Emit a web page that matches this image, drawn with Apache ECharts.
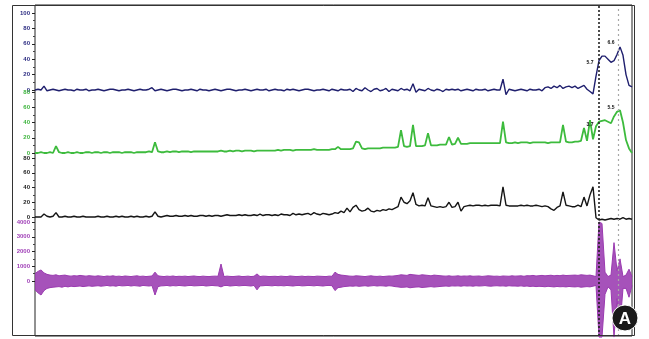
<!DOCTYPE html>
<html>
<head>
<meta charset="utf-8">
<script src="https://cdn.jsdelivr.net/npm/echarts@6/dist/echarts.min.js"></script>
<style>
  html, body { margin: 0; padding: 0; background: #fff; }
  #chart { width: 649px; height: 339px; }
</style>
</head>
<body>
<div id="chart"></div>
<script>
// one sample every ~3px across the trace window
const SAMPLE_COUNT = 200;
const samples = Array.from({ length: SAMPLE_COUNT }, (_, i) => i);

// tick labels per channel
const navyTicks = [0, 20, 40, 60, 80, 100];
const greenTicks = [0, 20, 40, 60, 80];
const blackTicks = [0, 20, 40, 60, 80];
const purpleTicks = [0, 1000, 2000, 3000, 4000];

// channel 1 (navy)
const navy = [
  0, 1, 0, 5, -1, 0, 1, 0, -1, 0, 1, 0, 0, -1, 1, 0, 0, 1, -1, 0,
  0, 1, 0, -1, 0, 1, 1, 0, -1, 0, 0, 1, 0, -1, 0, 1, 0, 0, 1, 3,
  -1, 0, 1, 0, -1, 0, 1, 1, 0, -1, 0, 0, 1, 0, -1, 1, 0, 0, -1, 0,
  1, 0, -1, 0, 1, 1, 0, -1, 0, 0, 1, 0, -1, 0, 1, 0, 0, 1, -1, 0,
  1, 0, 0, -1, 1, 0, 1, 0, -1, 0, 1, 1, 0, -1, 0, 0, 1, 0, -1, 1,
  0, -1, 1, 0, 0, 1, -2, 2, 0, -1, 3, 0, -2, 1, 2, -1, 0, 2, -2, 1,
  0, -1, 2, 0, 1, -1, 8, -3, 1, 0, -1, 2, 0, -1, 1, 0, -2, 1, 0, 1,
  0, 1, -1, 0, 1, 0, -1, 1, 0, 0, 1, -1, 0, 1, 0, 0, 14, -6, 1, 0,
  -1, 0, 1, 0, -1, 1, 0, 0, 1, -1, 3, 4, 2, 5, 3, 6, 2, 4, 5, 3,
  5, 2, 4, 6, 1, -2, -5, 18, 38, 44, 44, 40, 36, 38, 46, 56, 45, 20, 6, 4
];

// channel 2 (green)
const green = [
  0, 0, 1, 0, 0, 1, 0, 9, 1, 0, 0, 1, 0, 0, 1, 0, 0, 1, 1, 0,
  1, 1, 0, 1, 1, 0, 1, 1, 1, 0, 1, 1, 1, 0, 1, 1, 1, 1, 2, 1,
  14, 2, 1, 1, 2, 1, 2, 2, 1, 2, 2, 2, 1, 2, 2, 2, 2, 2, 2, 2,
  2, 2, 3, 2, 2, 3, 2, 3, 3, 2, 3, 3, 3, 2, 3, 3, 3, 3, 3, 3,
  3, 4, 3, 4, 4, 4, 3, 4, 4, 4, 4, 4, 4, 5, 4, 4, 4, 4, 4, 5,
  5, 8, 5, 5, 5, 5, 6, 15, 14, 6, 5, 6, 6, 6, 6, 6, 7, 7, 7, 7,
  7, 8, 30, 9, 8, 9, 37, 9, 9, 9, 10, 26, 10, 10, 10, 11, 11, 11, 21, 11,
  12, 20, 12, 12, 12, 13, 13, 13, 13, 13, 13, 13, 13, 13, 13, 13, 41, 14, 13, 13,
  14, 13, 14, 14, 14, 13, 14, 14, 14, 14, 14, 13, 14, 14, 14, 14, 37, 15, 14, 14,
  15, 15, 16, 33, 16, 43, 18, 35, 41, 42, 43, 41, 39, 48, 54, 56, 40, 17, 6, 0
];

// channel 3 (black)
const black = [
  0, 0, 0, 4, 1, 0, 1, 6, 0, 0, 1, 0, 0, 1, 0, 0, 1, 0, 0, 0,
  0, 1, 0, 0, 1, 0, 0, 1, 0, 1, 0, 0, 1, 0, 1, 0, 0, 1, 0, 1,
  7, 1, 0, 1, 2, 1, 1, 2, 1, 1, 2, 1, 2, 1, 1, 2, 2, 1, 2, 1,
  2, 2, 1, 2, 3, 2, 2, 2, 3, 2, 3, 2, 2, 3, 2, 4, 2, 3, 3, 2,
  3, 2, 4, 3, 3, 2, 5, 3, 4, 3, 4, 5, 3, 6, 4, 3, 5, 4, 3, 4,
  6, 5, 8, 6, 12, 7, 13, 16, 10, 8, 9, 12, 8, 7, 9, 8, 10, 9, 11, 10,
  12, 14, 27, 20, 18, 22, 33, 17, 15, 16, 15, 26, 15, 14, 13, 14, 13, 14, 20, 13,
  14, 20, 8, 14, 15, 16, 15, 16, 16, 15, 16, 15, 16, 16, 16, 15, 41, 16, 15, 15,
  15, 15, 16, 15, 16, 15, 15, 16, 15, 14, 15, 14, 11, 9, 13, 15, 34, 16, 15, 14,
  14, 16, 14, 27, 15, 30, 41, -1, -4, -3, -4, -3, -2, -3, -2, -3, -1, -3, -2, -3
];

// channel 4 (purple) upper and lower envelope of the fast trace
const purpleHi = [
  500, 650, 750, 550, 450, 400, 380, 420, 350, 380, 400, 350, 330, 360, 340, 380, 350, 330, 360, 340,
  320, 350, 330, 300, 340, 320, 350, 310, 330, 300, 340, 320, 300, 330, 350, 310, 330, 300, 320, 340,
  600, 350, 320, 300, 330, 310, 340, 300, 320, 310, 330, 300, 320, 340, 310, 300, 330, 310, 300, 320,
  330, 320, 1150, 300, 330, 310, 300, 320, 340, 300, 310, 330, 300, 320, 480, 300, 330, 320, 300, 310,
  320, 300, 330, 310, 300, 340, 320, 300, 310, 330, 300, 320, 310, 300, 330, 320, 310, 300, 330, 320,
  600, 450, 400, 380, 350, 330, 320, 350, 340, 320, 300, 330, 350, 320, 310, 330, 300, 320, 340, 330,
  350, 380, 420, 400, 380, 450, 420, 400, 380, 420, 400, 380, 350, 400, 380, 360, 340, 330, 350, 320,
  330, 350, 320, 340, 330, 350, 320, 330, 340, 310, 330, 350, 340, 320, 330, 310, 340, 330, 320, 350,
  330, 340, 350, 320, 360, 350, 380, 340, 360, 380, 350, 370, 390, 350, 380, 360, 400, 370, 380, 390,
  400, 380, 420, 400, 380, 400, 350, 300, 4000, 3900, 600, 300, 400, 2600, 700, 1500, 300, 400, 800, 300
];
const purpleLo = [
  -600, -800, -950, -650, -500, -450, -420, -400, -380, -420, -360, -400, -350, -380, -360, -340, -380, -350, -330, -360,
  -340, -320, -350, -330, -300, -340, -320, -350, -300, -330, -320, -300, -340, -310, -330, -350, -300, -320, -340, -310,
  -950, -380, -330, -320, -300, -340, -310, -330, -300, -320, -340, -310, -300, -330, -320, -310, -300, -340, -320, -300,
  -320, -330, -400, -310, -300, -340, -320, -300, -330, -310, -300, -320, -340, -300, -600, -330, -320, -300, -310, -330,
  -300, -320, -310, -330, -300, -320, -340, -310, -300, -330, -320, -300, -310, -330, -300, -320, -340, -310, -300, -320,
  -650, -450, -420, -380, -360, -340, -350, -330, -360, -340, -320, -350, -330, -310, -340, -320, -330, -350, -320, -340,
  -380, -400, -430, -420, -400, -460, -430, -410, -400, -440, -420, -400, -380, -410, -390, -370, -350, -340, -360, -330,
  -340, -330, -350, -320, -340, -330, -350, -320, -340, -330, -310, -340, -350, -330, -320, -340, -330, -350, -320, -340,
  -340, -350, -330, -360, -340, -370, -350, -380, -360, -370, -390, -360, -380, -400, -370, -390, -380, -400, -370, -390,
  -400, -380, -420, -400, -380, -400, -350, -300, -3800, -3800, -900, -400, -600, -3800, -1200, -3000, -500, -500, -1100, -300
];

// event markers (sample positions) and peak annotations
const markerPositions = [188, 194.3];
const navyPeaks = [{ at: 185, value: 36, text: '5.7' }, { at: 192, value: 61, text: '6.6' }];
const greenPeaks = [{ at: 185, value: 37, text: '3.7' }, { at: 192, value: 59, text: '5.5' }];

const NAVY = '#1f1f6e';
const GREEN = '#3dbb3d';
const BLACK = '#151515';
const PURPLE = '#9a3ab0';
const BASE_GRAY = '#bcd2d8';

const chart = echarts.init(document.getElementById('chart'));

function channelAxis(gridIndex, ticks, color) {
  return {
    type: 'value',
    gridIndex,
    min: ticks[0],
    max: ticks[ticks.length - 1],
    interval: ticks[1] - ticks[0],
    axisLine: { show: false },
    axisTick: { show: true, length: 3, lineStyle: { color: '#222' } },
    minorTick: { show: true, splitNumber: 2, length: 2, lineStyle: { color: '#444' } },
    splitLine: { show: false },
    axisLabel: {
      color,
      fontSize: 6,
      fontWeight: 'bold',
      fontFamily: 'Liberation Sans',
      margin: 5,
      formatter: (v) => String(v),
    },
  };
}

function peakLabels(list) {
  return {
    symbol: 'circle',
    symbolSize: 0,
    silent: true,
    label: {
      show: true,
      position: 'inside',
      color: '#111',
      fontSize: 5,
      fontWeight: 'bold',
      formatter: (p) => p.name,
    },
    data: list.map(p => ({ name: p.text, coord: [p.at, p.value] })),
  };
}

function baseline(value) {
  return {
    symbol: 'none',
    silent: true,
    label: { show: false },
    lineStyle: { color: BASE_GRAY, type: 'solid', width: 1 },
    data: [{ yAxis: value }],
  };
}

const traceGrid = (top, height) => ({ left: 35, right: 17, top, height });

const option = {
  animation: false,
  backgroundColor: '#fff',
  grid: [
    { left: 35, right: 17, top: 5, height: 331, show: true, borderColor: '#222', borderWidth: 1, backgroundColor: 'transparent' },
    traceGrid(13, 77),
    traceGrid(92, 61),
    traceGrid(158, 59),
    traceGrid(222, 59),
  ],
  xAxis: [
    { type: 'value', gridIndex: 0, min: 0, max: SAMPLE_COUNT - 1, show: false },
    ...[1, 2, 3, 4].map(g => ({
      type: 'category', gridIndex: g, data: samples, boundaryGap: false, show: false,
    })),
  ],
  yAxis: [
    { type: 'value', gridIndex: 0, show: false, min: 0, max: 1 },
    channelAxis(1, navyTicks, '#2a2a80'),
    channelAxis(2, greenTicks, '#3cb43c'),
    channelAxis(3, blackTicks, '#222'),
    channelAxis(4, purpleTicks, '#a040b8'),
  ],
  series: [
    {
      name: 'markers',
      type: 'line',
      xAxisIndex: 0,
      yAxisIndex: 0,
      data: [[0, 0]],
      showSymbol: false,
      lineStyle: { opacity: 0 },
      z: 5,
      markLine: {
        symbol: 'none',
        silent: true,
        label: { show: false },
        data: [
          { xAxis: markerPositions[0], lineStyle: { color: '#222', type: [2, 2], width: 1.6 } },
          { xAxis: markerPositions[1], lineStyle: { color: '#a8a8a8', type: [2, 3], width: 1.2 } },
        ],
      },
    },
    {
      name: 'purple-hi',
      type: 'line',
      xAxisIndex: 4,
      yAxisIndex: 4,
      data: purpleHi,
      symbol: 'none',
      clip: false,
      lineStyle: { color: PURPLE, width: 1 },
      areaStyle: { color: PURPLE, opacity: 0.88 },
      z: 2,
    },
    {
      name: 'purple-lo',
      type: 'line',
      xAxisIndex: 4,
      yAxisIndex: 4,
      data: purpleLo,
      symbol: 'none',
      clip: false,
      lineStyle: { color: PURPLE, width: 1 },
      areaStyle: { color: PURPLE, opacity: 0.88 },
      z: 2,
    },
    {
      name: 'black',
      type: 'line',
      xAxisIndex: 3,
      yAxisIndex: 3,
      data: black,
      symbol: 'none',
      clip: false,
      lineStyle: { color: BLACK, width: 1.4 },
      markLine: baseline(-2),
      z: 3,
    },
    {
      name: 'green',
      type: 'line',
      xAxisIndex: 2,
      yAxisIndex: 2,
      data: green,
      symbol: 'none',
      clip: false,
      lineStyle: { color: GREEN, width: 1.8 },
      markLine: baseline(-3),
      markPoint: peakLabels(greenPeaks),
      z: 3,
    },
    {
      name: 'navy',
      type: 'line',
      xAxisIndex: 1,
      yAxisIndex: 1,
      data: navy,
      symbol: 'none',
      clip: false,
      lineStyle: { color: NAVY, width: 1.4 },
      markLine: baseline(-2),
      markPoint: peakLabels(navyPeaks),
      z: 3,
    },
  ],
  graphic: [
    {
      type: 'rect',
      shape: { x: 12.5, y: 5.5, width: 622, height: 330 },
      style: { fill: 'none', stroke: '#333', lineWidth: 1 },
      silent: true,
      zlevel: 1,
      z: 10,
    },
    {
      type: 'circle',
      shape: { cx: 625, cy: 318, r: 13 },
      style: { fill: '#1a1a1a', stroke: '#fff', lineWidth: 1 },
      silent: true,
      zlevel: 1,
      z: 100,
    },
    {
      type: 'text',
      x: 625,
      y: 319,
      style: {
        text: 'A', fill: '#fff', font: 'bold 17px "Liberation Sans", Arial',
        align: 'center', verticalAlign: 'middle',
      },
      silent: true,
      zlevel: 1,
      z: 101,
    },
  ],
};

chart.setOption(option);
</script>
</body>
</html>
